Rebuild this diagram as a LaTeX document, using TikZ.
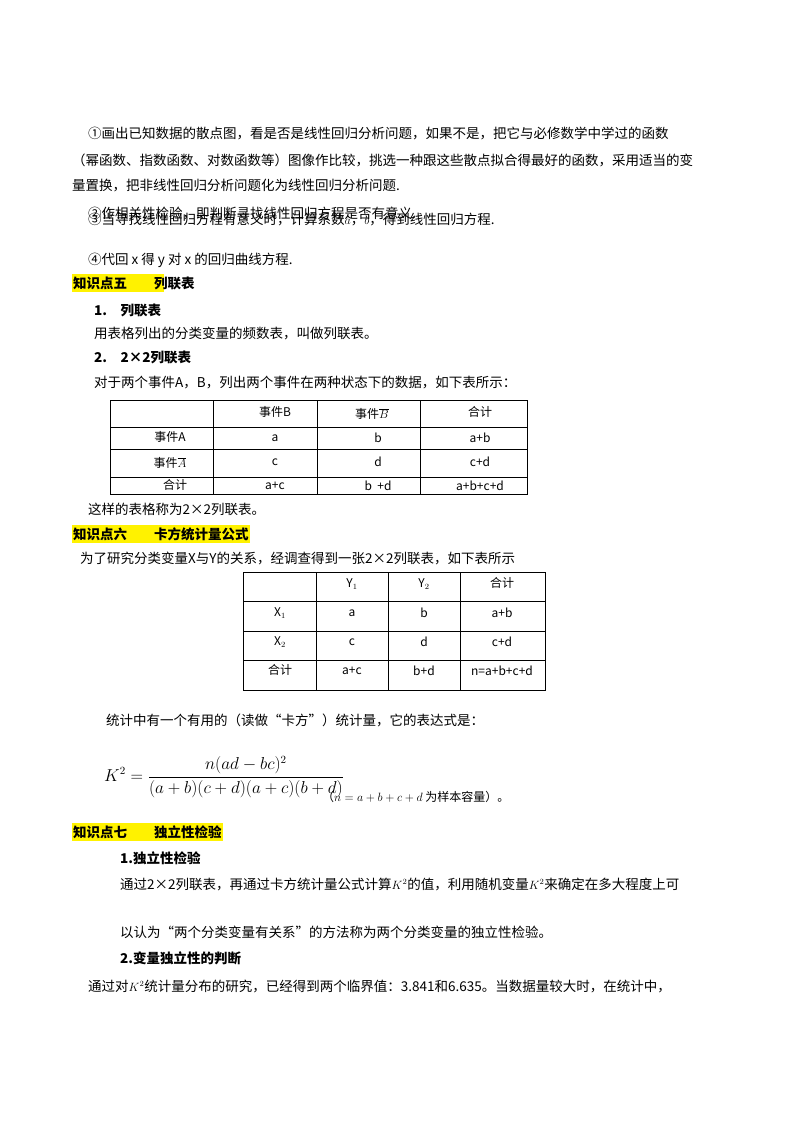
\documentclass[tikz,border=0pt]{standalone}
\usepackage{fontspec}
\setmainfont{Noto Sans CJK SC}
\newcommand{\mm}[1]{{\large$#1$}}
\begin{document}
\begin{tikzpicture}[x=1pt,y=-1pt,
  txt/.style={anchor=west,inner sep=0pt,font=\fontsize{13.5}{16}\selectfont},
  hd/.style={txt,font=\fontsize{13.5}{16}\selectfont\bfseries},
  cell/.style={inner sep=0pt,font=\fontsize{12}{14}\selectfont},
  hl/.style={fill=yellow,draw=none},
  tab/.style={line width=0.9pt}]
\fill[white] (0,0) rectangle (800,1132);
\useasboundingbox (0,0) rectangle (800,1132);
\node[txt] (l1) at (88,133) {①画出已知数据的散点图，看是否是线性回归分析问题，如果不是，把它与必修数学中学过的函数};
\node[txt] (l2) at (72,160) {（幂函数、指数函数、对数函数等）图像作比较，挑选一种跟这些散点拟合得最好的函数，采用适当的变};
\node[txt] (l3) at (72,186) {量置换，把非线性回归分析问题化为线性回归分析问题.};
\node[txt] (l4) at (88,213) {②作相关性检验，即判断寻找线性回归方程是否有意义.};
\node[txt] (l5) at (88,220) {};
\node[txt] (l5b) at (88,219) {③当寻找线性回归方程有意义时，计算系数\mm{\hat a}，\mm{\hat b}，得到线性回归方程.};
\node[txt] (l6) at (88,260) {④代回 x 得 y 对 x 的回归曲线方程.};
\fill[hl] (72,274) rectangle (164,292);
\node[hd] (h5) at (73,283) {知识点五\qquad 列联表};
\node[hd] (s1) at (94,310) {1.\quad 列联表};
\node[txt] (l7) at (94,333) {用表格列出的分类变量的频数表，叫做列联表。};
\node[hd] (s2) at (94,357) {2.\quad 2×2列联表};
\node[txt] (l8) at (94,383) {对于两个事件A，B，列出两个事件在两种状态下的数据，如下表所示：};
% table 1
\draw[tab] (110,400) rectangle (527,494);
\foreach \y in {427,449,477} \draw[tab] (110,\y) -- (527,\y);
\foreach \x in {213,317,420} \draw[tab] (\x,400) -- (\x,494);
\node[cell] (t11) at (275,412) {事件B};
\node[cell] (t12) at (372,414) {事件\mm{\overline{B}}};
\node[cell] (t13) at (480,412) {合计};
\node[cell] (t21) at (170,437) {事件A};
\node[cell] (t22) at (275,438) {a};
\node[cell] (t23) at (378,438) {b};
\node[cell] (t24) at (480,438) {a+b};
\node[cell] (t31) at (170,463) {事件\mm{\overline{A}}};
\node[cell] (t32) at (275,462) {c};
\node[cell] (t33) at (378,462) {d};
\node[cell] (t34) at (480,462) {c+d};
\node[cell] (t41) at (175,485) {合计};
\node[cell] (t42) at (275,486) {a+c};
\node[cell] (t43) at (378,486) {b\ \ +d};
\node[cell] (t44) at (480,486) {a+b+c+d};
\node[txt] (l9) at (88,509) {这样的表格称为2×2列联表。};
\fill[hl] (72,525) rectangle (250,543);
\node[hd] (h6) at (73,534) {知识点六\qquad 卡方统计量公式};
\node[txt] (l10) at (80,558) {为了研究分类变量X与Y的关系，经调查得到一张2×2列联表，如下表所示};
% table 2
\draw[tab] (243,572) rectangle (545,690);
\foreach \y in {601,631,660} \draw[tab] (243,\y) -- (545,\y);
\foreach \x in {316,388,460} \draw[tab] (\x,572) -- (\x,690);
\node[cell] (u11) at (352,584) {Y$_1$};
\node[cell] (u12) at (424,584) {Y$_2$};
\node[cell] (u13) at (502,583) {合计};
\node[cell] (u21) at (280,613) {X$_1$};
\node[cell] (u22) at (352,613) {a};
\node[cell] (u23) at (424,613) {b};
\node[cell] (u24) at (502,613) {a+b};
\node[cell] (u31) at (280,642) {X$_2$};
\node[cell] (u32) at (352,642) {c};
\node[cell] (u33) at (424,642) {d};
\node[cell] (u34) at (502,642) {c+d};
\node[cell] (u41) at (280,670) {合计};
\node[cell] (u42) at (352,671) {a+c};
\node[cell] (u43) at (424,671) {b+d};
\node[cell] (u44) at (502,671) {n=a+b+c+d};
\node[txt] (l11) at (106,720) {统计中有一个有用的（读做“卡方”）统计量，它的表达式是：};
\node[txt,font=\fontsize{16}{18}\selectfont] (f1) at (104,777) {$\displaystyle K^2=\frac{n(ad-bc)^2}{(a+b)(c+d)(a+c)(b+d)}$};
\node[txt,font=\fontsize{12}{14}\selectfont] (f2) at (322,797) {（\mm{n=a+b+c+d} 为样本容量）。};
\fill[hl] (72,823) rectangle (223,841);
\node[hd] (h7) at (73,832) {知识点七\qquad 独立性检验};
\node[hd] (s3) at (120,858) {1.独立性检验};
\node[txt] (l12) at (120,884) {通过2×2列联表，再通过卡方统计量公式计算\mm{K^2}的值，利用随机变量\mm{K^2}来确定在多大程度上可};
\node[txt] (l13) at (120,932) {以认为“两个分类变量有关系”的方法称为两个分类变量的独立性检验。};
\node[hd] (s4) at (120,958) {2.变量独立性的判断};
\node[txt] (l14) at (88,986) {通过对\mm{K^2}统计量分布的研究，已经得到两个临界值：3.841和6.635。当数据量较大时，在统计中，};
\end{tikzpicture}
\end{document}
